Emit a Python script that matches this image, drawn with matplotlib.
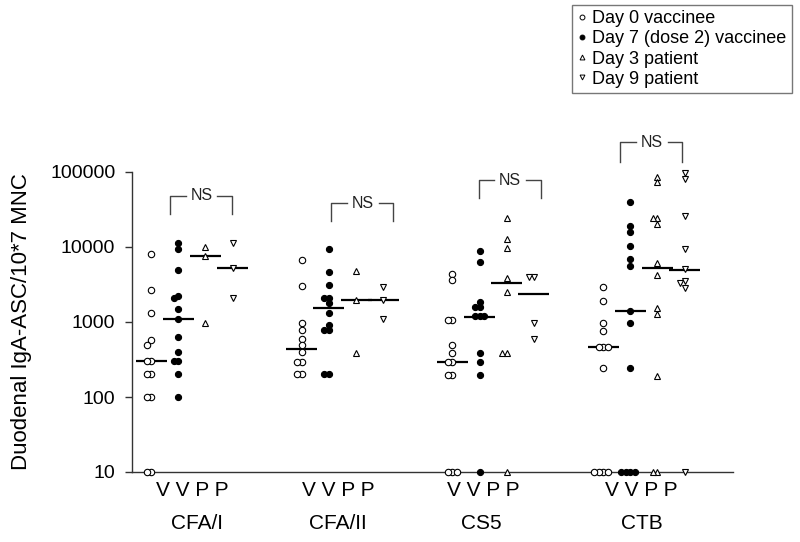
import numpy as np
import matplotlib
matplotlib.use("Agg")
import matplotlib.pyplot as plt
from matplotlib.lines import Line2D

plt.rcParams['font.family'] = ['Liberation Sans', 'DejaVu Sans']

# ---------------- data ----------------
groups = ["CFA/I", "CFA/II", "CS5", "CTB"]
series_labels = ["Day 0 vaccinee", "Day 7 (dose 2) vaccinee", "Day 3 patient", "Day 9 patient"]
column_labels = "V V P P"
y_ticks = [10, 100, 1000, 10000, 100000]
y_label = "Duodenal IgA-ASC/10*7 MNC"
sig_label = "NS"

cfa1_day0 = [8000, 2700, 1300, 570, 500, 300, 300, 200, 200, 100, 100, 10, 10]
cfa1_day7 = [11200, 9400, 5000, 2200, 2100, 1500, 1100, 640, 400, 300, 300, 200, 100]
cfa1_day3 = [9900, 7700, 980]
cfa1_day9 = [11400, 5200, 2100]

cfa2_day0 = [6700, 3000, 980, 780, 590, 490, 400, 290, 290, 200, 200]
cfa2_day7 = [9300, 4600, 3100, 2100, 2100, 1800, 1300, 900, 780, 780, 200, 200]
cfa2_day3 = [4800, 1950, 390]
cfa2_day9 = [2900, 1950, 1090]

cs5_day0 = [4400, 3600, 1060, 1060, 490, 390, 290, 290, 195, 195, 10, 10, 10]
cs5_day7 = [8900, 6400, 1870, 1600, 1600, 1200, 1200, 1200, 390, 290, 195, 10]
cs5_day3 = [24600, 12700, 9600, 3900, 2500, 390, 390, 10]
cs5_day9 = [4000, 4000, 980, 590]

ctb_day0 = [2950, 1900, 960, 770, 470, 470, 470, 240, 10, 10, 10, 10]
ctb_day7 = [39500, 19200, 15700, 10300, 6900, 5500, 1400, 960, 240, 10, 10, 10, 10]
ctb_day3 = [86500, 72800, 24100, 24100, 20000, 6100, 4200, 1550, 1260, 190, 10, 10]
ctb_day9 = [96000, 80000, 26300, 9300, 5100, 3560, 3280, 2870, 10]

cfa1_medians = [300, 1100, 7700, 5200]
cfa2_medians = [430, 1520, 1960, 1960]
cs5_medians = [293, 1150, 3280, 2360]
ctb_medians = [469, 1400, 5300, 5000]

all_values = [
    [cfa1_day0, cfa1_day7, cfa1_day3, cfa1_day9],
    [cfa2_day0, cfa2_day7, cfa2_day3, cfa2_day9],
    [cs5_day0, cs5_day7, cs5_day3, cs5_day9],
    [ctb_day0, ctb_day7, ctb_day3, ctb_day9],
]
all_medians = [cfa1_medians, cfa2_medians, cs5_medians, ctb_medians]

# ---------------- layout ----------------
W, H = 800, 542
fig = plt.figure(figsize=(W / 100, H / 100), dpi=100)
ax = fig.add_axes([132 / W, 1 - 472 / H, (733 - 132) / W, 300 / H])
ax.set_yscale('log')
ax.set_ylim(10, 1e5)
ax.set_xlim(-0.70, 21.4)

group_step = 5.54
group_base = np.arange(len(groups)) * group_step

styles = [
    dict(marker='o', mfc='white', ms=4.6),
    dict(marker='o', mfc='black', ms=4.4),
    dict(marker='^', mfc='white', ms=4.2),
    dict(marker='v', mfc='white', ms=4.2),
]

fig.canvas.draw()
p0 = ax.transData.transform((0, 10))
p1 = ax.transData.transform((1, 100))
px_per_x = p1[0] - p0[0]
px_per_dec = p1[1] - p0[1]


def swarm_offsets(vals, step=4.5, thresh=4.5):
    placed, offs = [], []
    for v in vals:
        y = np.log10(v) * px_per_dec
        x = 0.0
        for k in [0, -1, 1, -2, 2, -3, 3]:
            x = k * step
            if all(np.hypot(x - qx, y - qy) >= thresh - 1e-6 for qx, qy in placed):
                break
        placed.append((x, y))
        offs.append(x / px_per_x)
    return np.array(offs)


for g, (cols, meds) in enumerate(zip(all_values, all_medians)):
    for c, (vals, med) in enumerate(zip(cols, meds)):
        xc = group_base[g] + c
        xs = xc + swarm_offsets(vals)
        ax.plot(xs, vals, linestyle='none', mec='black', mew=0.8,
                clip_on=False, zorder=3, **styles[c])
        ax.plot([xc - 0.57, xc + 0.57], [med, med], color='black', lw=1.6,
                zorder=2, solid_capstyle='butt')

# NS brackets (annotation layout)
brackets = [
    (0.70, 2.98, 1.86, 47900, 27500),
    (6.62, 8.90, 7.79, 38600, 22200),
    (12.06, 14.34, 13.20, 78200, 45000),
    (17.24, 19.52, 18.42, 251000, 136000),
]
bcol = '#444444'
for xl, xr, xm, ytop, ybot in brackets:
    ax.plot([xl, xl, xm - 0.58], [ybot, ytop, ytop], color=bcol, lw=1.0, clip_on=False)
    ax.plot([xm + 0.58, xr, xr], [ytop, ytop, ybot], color=bcol, lw=1.0, clip_on=False)
    ax.text(xm, ytop, sig_label, ha='center', va='center', fontsize=11.5, color='#222222')

# axes styling
for s in ['top', 'right']:
    ax.spines[s].set_visible(False)
for s in ['left', 'bottom']:
    ax.spines[s].set_color('#333333')
    ax.spines[s].set_linewidth(1.0)
ax.set_yticks(y_ticks)
ax.set_yticklabels([str(t) for t in y_ticks])
ax.yaxis.set_minor_locator(matplotlib.ticker.NullLocator())
ax.tick_params(axis='y', direction='out', length=5, width=1, pad=7,
               labelsize=14, color='#333333')
ax.set_xticks([])

vvpp_x = [1.51, 6.88, 12.21, 18.02]
name_x = [1.69, 6.88, 12.13, 18.05]
for g in range(len(groups)):
    ax.annotate(column_labels, xy=(vvpp_x[g], 0), xycoords=('data', 'axes fraction'),
                xytext=(0, -13.2), textcoords='offset points', ha='center', va='center',
                fontsize=15)
    ax.annotate(groups[g], xy=(name_x[g], 0), xycoords=('data', 'axes fraction'),
                xytext=(0, -37), textcoords='offset points', ha='center', va='center',
                fontsize=15)

fig.text(22 / W, 1 - 322 / H, y_label, rotation=90, ha='center', va='center', fontsize=16)

handles = [Line2D([], [], linestyle='none', mec='black', mew=0.7,
                  marker=st['marker'], mfc=st['mfc'], ms=3.5) for st in styles]
leg = fig.legend(handles, series_labels, loc='upper right',
                 bbox_to_anchor=(792 / W, 1 - 5 / H), frameon=True, fancybox=False,
                 edgecolor='#555555', fontsize=13, handlelength=0.5, handletextpad=0.3,
                 borderpad=0.3, labelspacing=0.17, borderaxespad=0)
leg.get_frame().set_linewidth(1.0)

fig.savefig('out.png', dpi=100)
